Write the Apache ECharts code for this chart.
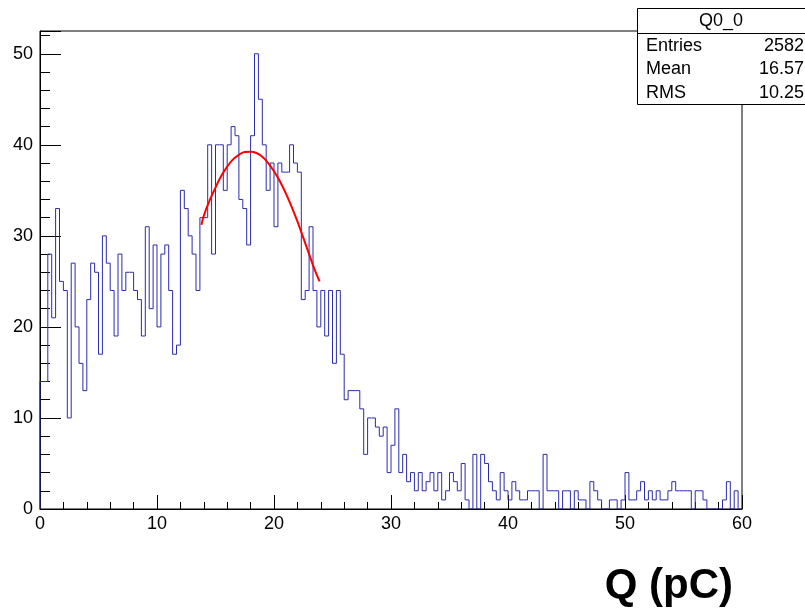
<!DOCTYPE html>
<html>
<head>
<meta charset="utf-8">
<script src="https://cdn.jsdelivr.net/npm/echarts@6/dist/echarts.min.js"></script>
<style>
  html, body { margin: 0; padding: 0; background: #fff; }
  #chart { width: 805px; height: 608px; }
</style>
</head>
<body>
<div id="chart"></div>
<script>
// Histogram Q0_0 : 180 bins from 0 to 60 pC
const xMin = 0;
const xMax = 60;
const binCounts = [
  14, 14, 28, 21, 33, 25, 24, 10, 27, 20,
  16, 13, 23, 27, 26, 17, 30, 27, 24, 19,
  28, 24, 26, 26, 24, 23, 19, 31, 22, 29,
  20, 28, 29, 24, 17, 18, 35, 33, 30, 28,
  24, 32, 32, 40, 28, 40, 40, 35, 40, 42,
  41, 34, 33, 29, 41, 50, 45, 40, 35, 38,
  31, 38, 37, 37, 40, 38, 37, 23, 24, 31,
  24, 20, 24, 19, 24, 16, 24, 17, 12, 13,
  13, 13, 11, 6, 10, 10, 9, 8, 9, 4,
  7, 11, 4, 6, 3, 4, 2, 4, 2, 3,
  4, 2, 4, 1, 2, 4, 3, 2, 5, 1,
  0, 6, 0, 6, 5, 3, 2, 1, 4, 2,
  1, 3, 2, 1, 1, 2, 2, 2, 0, 6,
  2, 2, 2, 0, 2, 2, 0, 2, 1, 1,
  0, 3, 2, 1, 0, 0, 1, 1, 0, 1,
  4, 1, 1, 2, 3, 1, 2, 1, 2, 1,
  1, 2, 3, 2, 2, 2, 2, 0, 2, 2,
  1, 0, 0, 0, 0, 1, 3, 0, 2, 0
];
// Fit curve (gaus) points
const fitX = [13.8, 14.0, 14.5, 15.0, 15.5, 16.0, 16.5, 17.0, 17.5, 18.0, 18.5, 19.0,
              19.5, 20.0, 20.5, 21.0, 21.5, 22.0, 22.5, 23.0, 23.5, 23.9];
const fitY = [31.2, 32.2, 33.9, 35.3, 36.6, 37.6, 38.4, 38.9, 39.2, 39.25, 39.1, 38.7,
              38.0, 37.1, 36.0, 34.7, 33.2, 31.6, 29.8, 28.0, 26.2, 25.0];
// Stats box
const statsTitle = 'Q0_0';
const statsNames = ['Entries', 'Mean', 'RMS'];
const statsValues = ['2582', '16.57', '10.25'];
const axisTitle = 'Q (pC)';

const nBins = binCounts.length;
const binW = (xMax - xMin) / nBins;
const histPts = [[xMin, 0]];
for (let i = 0; i < nBins; i++) histPts.push([xMin + i * binW, binCounts[i]]);
histPts.push([xMax, binCounts[nBins - 1]]);
histPts.push([xMax, 0]);
const fitPts = fitX.map((x, i) => [x, fitY[i]]);

const FONT = 'Liberation Sans, Arial, Helvetica, sans-serif';
const chart = echarts.init(document.getElementById('chart'), null, { renderer: 'canvas' });

const statsGraphics = [];
const bx = 637, by = 8, bw = 175, rowH = 23.5;
statsGraphics.push({ type: 'rect', shape: { x: bx + 0.5, y: by + 0.5, width: bw, height: 96 },
  style: { fill: '#fff', stroke: '#000', lineWidth: 1 }, z: 10 });
statsGraphics.push({ type: 'line', shape: { x1: bx, y1: by + 25.5, x2: 805, y2: by + 25.5 },
  style: { stroke: '#000', lineWidth: 1 }, z: 11 });
statsGraphics.push({ type: 'text', x: 721, y: by + 13, z: 12,
  style: { text: statsTitle, font: '18px ' + FONT, fill: '#000', align: 'center', verticalAlign: 'middle' } });
statsNames.forEach((n, i) => {
  const cy = by + 38 + i * rowH;
  statsGraphics.push({ type: 'text', x: 646, y: cy, z: 12,
    style: { text: n, font: '18px ' + FONT, fill: '#000', align: 'left', verticalAlign: 'middle' } });
  statsGraphics.push({ type: 'text', x: 804, y: cy, z: 12,
    style: { text: statsValues[i], font: '18px ' + FONT, fill: '#000', align: 'right', verticalAlign: 'middle' } });
});
statsGraphics.push({ type: 'text', x: 733, y: 586, z: 12,
  style: { text: axisTitle, font: 'bold 42px ' + FONT, fill: '#000', align: 'right', verticalAlign: 'middle' } });

const yMax = 52.5;
chart.setOption({
  animation: false,
  backgroundColor: '#fff',
  grid: { left: 40, right: 63, top: 31, bottom: 99, show: true, borderColor: '#000', borderWidth: 1, backgroundColor: 'transparent' },
  xAxis: {
    type: 'value', min: xMin, max: xMax, interval: 10,
    axisLine: { show: true, onZero: false, lineStyle: { color: '#000', width: 1 } },
    axisTick: { show: true, inside: true, length: 14, lineStyle: { color: '#000' } },
    minorTick: { show: true, splitNumber: 5, length: 7, lineStyle: { color: '#000' } },
    axisLabel: { color: '#000', fontSize: 18, fontFamily: FONT, margin: 6 },
    splitLine: { show: false }, minorSplitLine: { show: false }
  },
  yAxis: [
    {
      type: 'value', min: 0, max: yMax, interval: 2, position: 'left',
      axisLine: { show: true, lineStyle: { color: '#000', width: 1 } },
      axisTick: { show: true, inside: true, length: 10, lineStyle: { color: '#000' } },
      axisLabel: { color: '#000', fontSize: 18, fontFamily: FONT, margin: 7,
        formatter: v => (Math.abs(v % 10) < 1e-9 ? String(v) : '') },
      splitLine: { show: false }
    },
    {
      type: 'value', min: 0, max: yMax, interval: 10, position: 'left', offset: 0,
      axisLine: { show: false },
      axisTick: { show: true, inside: true, length: 21, lineStyle: { color: '#000' } },
      axisLabel: { show: false },
      splitLine: { show: false }
    }
  ],
  series: [
    {
      type: 'line', step: 'end', data: histPts, showSymbol: false, symbol: 'none',
      lineStyle: { color: '#2b2bb0', width: 1 }, z: 3, silent: true
    },
    {
      type: 'line', data: fitPts, smooth: true, showSymbol: false, symbol: 'none',
      lineStyle: { color: '#ff0000', width: 2 }, z: 4, silent: true
    }
  ],
  graphic: statsGraphics
});
</script>
</body>
</html>
